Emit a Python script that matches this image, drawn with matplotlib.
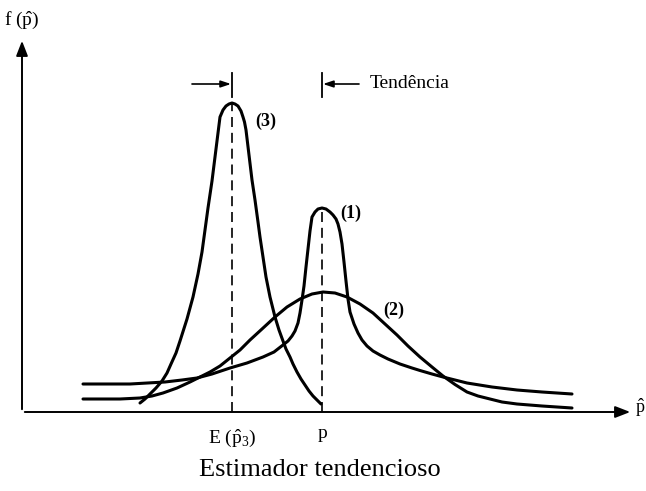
import matplotlib
matplotlib.use('Agg')
import matplotlib.pyplot as plt

plt.rcParams['font.family'] = 'Liberation Serif'
plt.rcParams['mathtext.fontset'] = 'custom'
plt.rcParams['mathtext.rm'] = 'Liberation Serif'
plt.rcParams['mathtext.it'] = 'Liberation Serif:italic'

# curve (3): biased estimator, tall and narrow, centred on E(p3)
x3 = [118, 123, 128, 134, 140, 145, 149, 154, 158, 165, 171, 176, 180, 183, 186, 190, 193, 196,
      198, 201, 204, 207, 210, 213, 216, 219, 221, 222.5, 224, 227, 230, 233, 236, 238, 241, 244,
      248, 253, 257, 261, 264, 268, 271, 275, 279, 283, 287, 291, 295, 299]
f3 = [9, 13, 18, 24, 31, 39, 48, 59, 71, 93, 115, 138, 160, 182, 204, 231, 255, 279,
      295, 302, 306, 308, 309, 308, 306, 301, 295, 290, 282, 257, 232, 212, 190, 175, 155, 135,
      115, 95, 82, 71, 63, 55, 48, 40, 33, 27, 21, 16, 12, 8]

# curve (1): unbiased, sharp peak at p, heavy tails
x1 = [61, 108, 143, 160, 175, 190, 208, 225, 241, 252, 261, 266, 270, 273, 276, 278, 280, 282,
      284, 286, 288, 290, 293, 296, 300, 304, 308, 311, 314, 316, 318, 320, 322, 324, 326, 328,
      332, 336, 340, 345, 351, 358, 366, 378, 390, 398, 410, 421, 433, 445, 470, 495, 520, 550]
f1 = [28, 28, 30, 32, 34, 38, 44, 49, 55, 60, 67, 71, 76, 81, 89, 99, 112, 126,
      145, 163, 181, 195, 200, 203, 204, 203, 200, 197, 193, 188, 180, 168, 150, 131, 113, 100,
      88, 79, 72, 66, 61, 57, 53, 48, 44, 41.5, 38, 35, 32, 29, 25, 22, 20, 18]

# curve (2): unbiased, wide
x2 = [61, 98, 118, 130, 141, 155, 168, 178, 188, 198, 208, 218, 228, 240, 253, 265, 278, 290,
      301, 313, 325, 338, 351, 363, 375, 386, 398, 410, 421, 433, 445, 456, 468, 480, 495, 520, 550]
f2 = [13, 13, 14, 16, 19, 24, 30, 35, 40, 46, 54, 62, 72, 83, 95, 105, 113, 118,
      120, 119, 115, 108, 99, 88, 77, 66, 55, 45, 36, 27.5, 20, 16, 13, 10, 8, 6, 4]

p_true = 300
p_biased = 210
peak3 = 309
peak1 = 204

fig = plt.figure(figsize=(6.46, 4.91), dpi=100)
ax = fig.add_axes([0, 0, 1, 1])
ax.set_xlim(-22, 624)
ax.set_ylim(-79, 412)
ax.axis('off')

lw = 2.2
for xs, fs in [(x3, f3), (x1, f1), (x2, f2)]:
    ax.plot(xs, fs, color='black', lw=lw, solid_capstyle='round', solid_joinstyle='round')

# axes with arrows
ax.annotate('', xy=(611, 0), xytext=(0, 0),
            arrowprops=dict(arrowstyle='-|>,head_length=0.9,head_width=0.35', color='black', lw=1.4))
ax.annotate('', xy=(0, 374), xytext=(0, 0),
            arrowprops=dict(arrowstyle='-|>,head_length=0.9,head_width=0.35', color='black', lw=1.4))

# dashed verticals
ax.plot([p_biased, p_biased], [0, peak3], color='black', lw=1.2, dashes=(6, 3.5))
ax.plot([p_true, p_true], [0, peak1], color='black', lw=1.2, dashes=(6, 3.5))

# bias marker at top
ax.plot([p_biased, p_biased], [315, 339], color='black', lw=1.3)
ax.plot([p_true, p_true], [315, 339], color='black', lw=1.3)
ax.annotate('', xy=(p_biased - 1, 328), xytext=(170, 328),
            arrowprops=dict(arrowstyle='-|>,head_length=0.6,head_width=0.2', color='black', lw=1.2,
                            shrinkA=0, shrinkB=0))
ax.annotate('', xy=(p_true + 1, 328), xytext=(337, 328),
            arrowprops=dict(arrowstyle='-|>,head_length=0.6,head_width=0.2', color='black', lw=1.2,
                            shrinkA=0, shrinkB=0))
ax.text(348, 329, 'Tendência', fontsize=14, ha='left', va='center')

# curve labels
ax.text(233, 291, '(3)', fontsize=13, fontweight='bold', ha='left', va='center')
ax.text(318, 199, '(1)', fontsize=13, fontweight='bold', ha='left', va='center')
ax.text(361, 102, '(2)', fontsize=13, fontweight='bold', ha='left', va='center')

# axis labels
ax.text(-18, 392, r'f ($\hat{\mathrm{p}}$)', fontsize=14, ha='left', va='center')
ax.text(613, 4, r'$\hat{\mathrm{p}}$', fontsize=13, ha='left', va='center')
ax.text(p_biased, -26, r'E ($\hat{\mathrm{p}}_3$)', fontsize=14, ha='center', va='center')
ax.text(p_true, -22, 'p', fontsize=14, ha='center', va='center')
ax.text(298, -58, 'Estimador tendencioso', fontsize=19, ha='center', va='center')

fig.savefig('out.png', dpi=100)
